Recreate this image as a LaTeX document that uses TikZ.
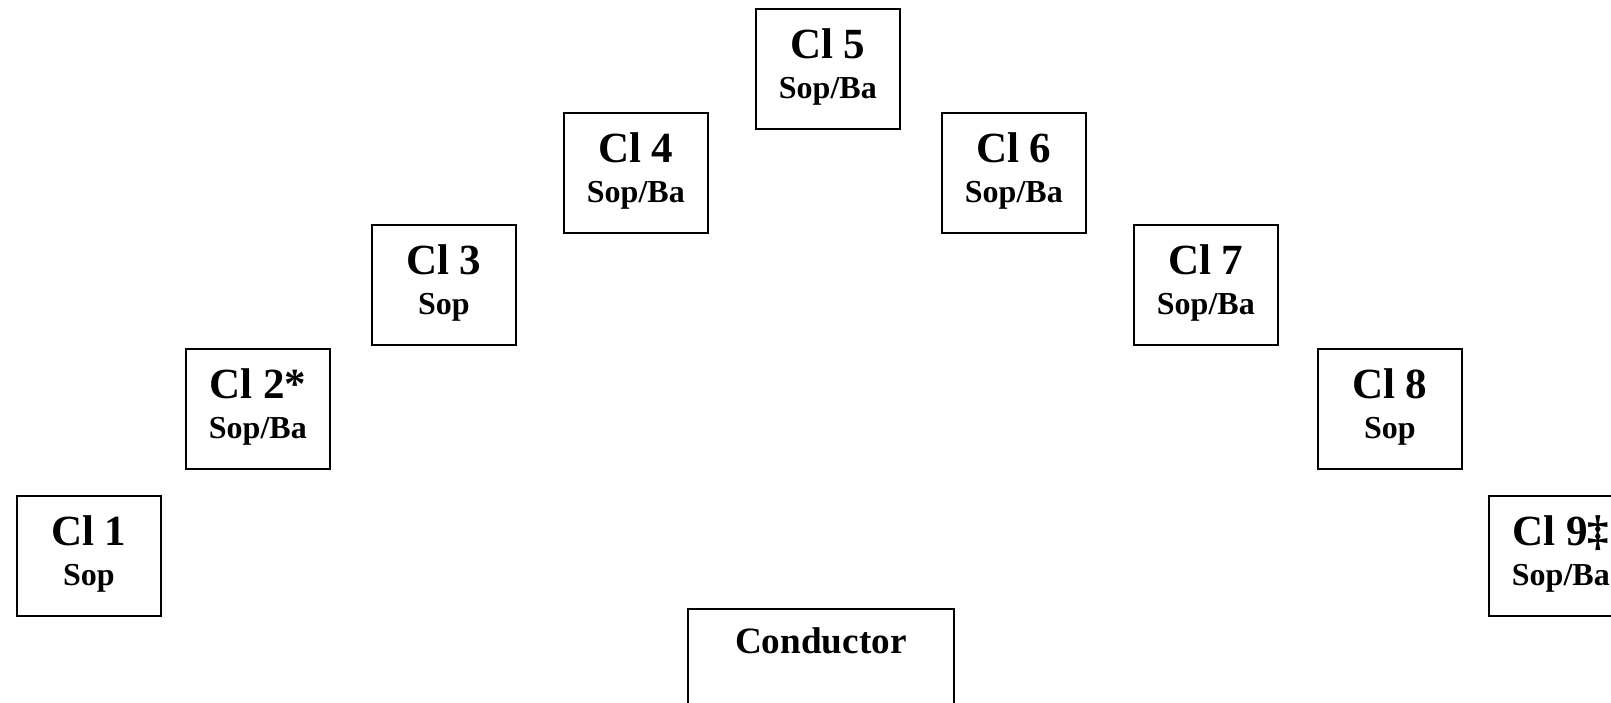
\documentclass[tikz,border=0pt]{standalone}
\usepackage{fontspec}
\setmainfont{Liberation Serif}
\begin{document}
\begin{tikzpicture}[x=0.5pt,y=-0.5pt,
  seat/.style={draw,line width=0.85pt,rectangle,inner sep=0pt,minimum width=72pt,minimum height=60pt,anchor=north west},
  cond/.style={draw,line width=0.85pt,rectangle,inner sep=0pt,minimum width=133pt,minimum height=61pt,anchor=north west},
  big/.style={anchor=base,inner sep=0pt,font=\bfseries\fontsize{21.5}{24}\selectfont},
  small/.style={anchor=base,inner sep=0pt,font=\bfseries\fontsize{16}{18}\selectfont},
  ctext/.style={anchor=base,inner sep=0pt,font=\bfseries\fontsize{18.6}{22}\selectfont}]
\useasboundingbox (0,0) rectangle (1611,702);
\clip (0,0) rectangle (1611,702);
\node[seat] (b1) at (16,495) {};
\node[seat] (b2) at (185,348) {};
\node[seat] (b3) at (371,224) {};
\node[seat] (b4) at (563,112) {};
\node[seat] (b5) at (755,8) {};
\node[seat] (b6) at (941,112) {};
\node[seat] (b7) at (1133,224) {};
\node[seat] (b8) at (1317,348) {};
\node[seat] (b9) at (1488,495) {};
\node[cond] (bc) at (687,608) {};
\node[big] (t1) at ([yshift=-25pt]b1.north) {Cl 1};
\node[small] (s1) at ([yshift=-45pt]b1.north) {Sop};
\node[big] (t2) at ([yshift=-25pt]b2.north) {Cl 2*};
\node[small] (s2) at ([yshift=-45pt]b2.north) {Sop/Ba};
\node[big] (t3) at ([yshift=-25pt]b3.north) {Cl 3};
\node[small] (s3) at ([yshift=-45pt]b3.north) {Sop};
\node[big] (t4) at ([yshift=-25pt]b4.north) {Cl 4};
\node[small] (s4) at ([yshift=-45pt]b4.north) {Sop/Ba};
\node[big] (t5) at ([yshift=-25pt]b5.north) {Cl 5};
\node[small] (s5) at ([yshift=-45pt]b5.north) {Sop/Ba};
\node[big] (t6) at ([yshift=-25pt]b6.north) {Cl 6};
\node[small] (s6) at ([yshift=-45pt]b6.north) {Sop/Ba};
\node[big] (t7) at ([yshift=-25pt]b7.north) {Cl 7};
\node[small] (s7) at ([yshift=-45pt]b7.north) {Sop/Ba};
\node[big] (t8) at ([yshift=-25pt]b8.north) {Cl 8};
\node[small] (s8) at ([yshift=-45pt]b8.north) {Sop};
\node[big] (t9) at ([yshift=-25pt]b9.north) {Cl 9‡};
\node[small] (s9) at ([yshift=-45pt]b9.north) {Sop/Ba};
\node[ctext] (tc) at ([yshift=-22.5pt]bc.north) {Conductor};
\end{tikzpicture}
\end{document}
